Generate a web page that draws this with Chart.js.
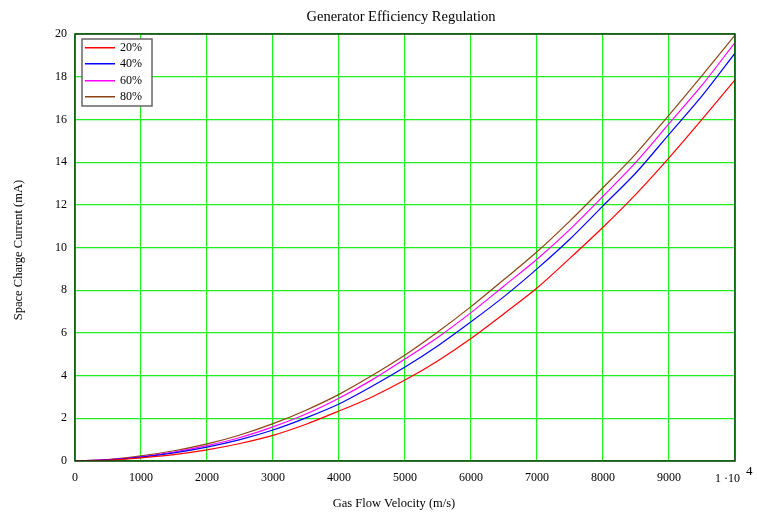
<!DOCTYPE html>
<html>
<head>
<meta charset="utf-8">
<title>Generator Efficiency Regulation</title>
<script src="https://cdn.jsdelivr.net/npm/chart.js@4/dist/chart.umd.min.js"></script>
<style>
  html, body { margin: 0; padding: 0; background: #ffffff; }
  #wrap { width: 757px; height: 513px; }
</style>
</head>
<body>
<div id="wrap"><canvas id="myChart" width="757" height="513"></canvas></div>
<script>
// Gas flow velocity samples (m/s)
const velocity = [0, 500, 1000, 1500, 2000, 2500, 3000, 3500, 4000, 4500, 5000,
  5500, 6000, 6500, 7000, 7500, 8000, 8500, 9000, 9500, 10000];

// Space charge current (mA) per efficiency setting
const eff20 = [0, 0.04, 0.15, 0.30, 0.52, 0.82, 1.20, 1.72, 2.34, 3.00, 3.79,
  4.70, 5.74, 6.90, 8.10, 9.50, 10.95, 12.50, 14.20, 16.00, 17.85];
const eff40 = [0, 0.05, 0.18, 0.38, 0.65, 1.00, 1.45, 2.02, 2.67, 3.50, 4.40,
  5.40, 6.52, 7.70, 9.00, 10.40, 11.95, 13.50, 15.30, 17.10, 19.10];
const eff60 = [0, 0.06, 0.20, 0.42, 0.72, 1.10, 1.60, 2.20, 2.94, 3.80, 4.78,
  5.80, 6.95, 8.20, 9.45, 10.85, 12.40, 14.00, 15.80, 17.60, 19.60];
const eff80 = [0, 0.07, 0.24, 0.48, 0.80, 1.22, 1.75, 2.38, 3.12, 4.00, 4.96,
  6.05, 7.23, 8.50, 9.80, 11.25, 12.80, 14.40, 16.20, 18.05, 19.95];

const seriesLabels = ['20%', '40%', '60%', '80%'];
const seriesColors = ['#ff0000', '#0000ff', '#ff00ff', '#8b4513'];
const seriesValues = [eff20, eff40, eff60, eff80];

const xTicks = [0, 1000, 2000, 3000, 4000, 5000, 6000, 7000, 8000, 9000, 10000];
const yTicks = [0, 2, 4, 6, 8, 10, 12, 14, 16, 18, 20];

const serif = '"Liberation Serif", "DejaVu Serif", serif';
const gridGreen = '#1eef1e';

function toPoints(values) {
  return values.map((v, i) => ({ x: velocity[i], y: v }));
}

// Titles, frame, legend box and the 1·10^4 label
const decorations = {
  id: 'decorations',
  afterDraw(chart) {
    const ctx = chart.ctx;
    const area = chart.chartArea;
    ctx.save();

    // frame around the plot
    ctx.strokeStyle = '#0b3d0b';
    ctx.lineWidth = 1.5;
    ctx.strokeRect(area.left, area.top, area.right - area.left, area.bottom - area.top);

    ctx.fillStyle = '#000000';
    ctx.textAlign = 'center';
    ctx.textBaseline = 'middle';

    ctx.font = '14.5px ' + serif;
    ctx.fillText('Generator Efficiency Regulation', 401, 17);

    ctx.font = '12.5px ' + serif;
    ctx.fillText('Gas Flow Velocity (m/s)', 394, 504);

    ctx.save();
    ctx.translate(19, 250);
    ctx.rotate(-Math.PI / 2);
    ctx.fillText('Space Charge Current (mA)', 0, 0);
    ctx.restore();

    // last x tick written as 1 ·10^4
    const xs = chart.scales.x;
    const px = xs.getPixelForValue(10000);
    ctx.font = '12px ' + serif;
    ctx.textAlign = 'right';
    ctx.fillText('1 \u00b710', px + 5, 479);
    ctx.textAlign = 'left';
    ctx.font = '13px ' + serif;
    ctx.fillText('4', px + 11, 472);

    // legend
    const lx = area.left + 7, ly = area.top + 5;
    ctx.fillStyle = '#ffffff';
    ctx.fillRect(lx, ly, 70, 67);
    ctx.strokeStyle = '#666666';
    ctx.lineWidth = 1.5;
    ctx.strokeRect(lx, ly, 70, 67);
    ctx.font = '12px ' + serif;
    ctx.textBaseline = 'middle';
    for (let i = 0; i < seriesLabels.length; i++) {
      const y = Math.round(ly + 8 + i * 16.4);
      ctx.fillStyle = seriesColors[i];
      ctx.fillRect(lx + 3, y, 30, 1.5);
      ctx.fillStyle = '#000000';
      ctx.fillText(seriesLabels[i], lx + 38, y + 1);
    }
    ctx.restore();
  }
};

const ctx = document.getElementById('myChart').getContext('2d');
const myChart = new Chart(ctx, {
  type: 'line',
  data: {
    datasets: seriesValues.map((vals, i) => ({
      label: seriesLabels[i],
      data: toPoints(vals),
      borderColor: seriesColors[i],
      backgroundColor: seriesColors[i],
      borderWidth: 1.2,
      pointRadius: 0,
      tension: 0.3,
      fill: false
    }))
  },
  options: {
    responsive: false,
    animation: false,
    layout: { padding: { top: 34, right: 22, left: 0, bottom: 0 } },
    plugins: {
      legend: { display: false },
      title: { display: false },
      tooltip: { enabled: false }
    },
    scales: {
      x: {
        type: 'linear',
        min: 0,
        max: 10000,
        afterBuildTicks: (scale) => { scale.ticks = xTicks.map(v => ({ value: v })); },
        afterFit: (scale) => { scale.height = 52; },
        ticks: {
          color: '#000000',
          font: { family: serif, size: 12 },
          padding: 10,
          maxRotation: 0,
          autoSkip: false,
          callback: (v) => (v === 10000 ? '' : String(v))
        },
        grid: { color: () => gridGreen, lineWidth: 1.2, drawTicks: false },
        border: { display: false }
      },
      y: {
        min: 0,
        max: 20,
        afterBuildTicks: (scale) => { scale.ticks = yTicks.map(v => ({ value: v })); },
        afterFit: (scale) => { scale.width = 75; },
        ticks: {
          color: '#000000',
          font: { family: serif, size: 12 },
          padding: 8,
          autoSkip: false
        },
        grid: { color: () => gridGreen, lineWidth: 1.2, drawTicks: false },
        border: { display: false }
      }
    }
  },
  plugins: [decorations]
});
</script>
</body>
</html>
